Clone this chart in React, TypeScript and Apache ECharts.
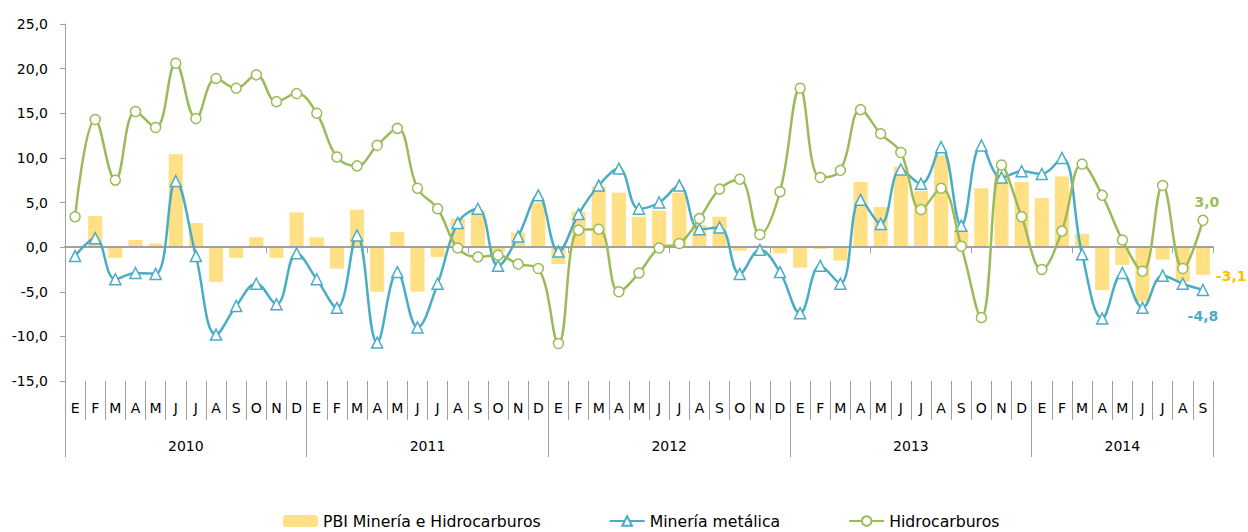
import React, { useEffect, useRef } from 'react';
import * as echarts from 'echarts';

const years = ['2010', '2011', '2012', '2013', '2014'];
const monthsPerYear = [12, 12, 12, 12, 9];
const monthLetters = ['E', 'F', 'M', 'A', 'M', 'J', 'J', 'A', 'S', 'O', 'N', 'D'];

const categories: string[] = years.flatMap((y, i) =>
  monthLetters.slice(0, monthsPerYear[i]).map((m, j) => `${y}-${j}-${m}`)
);

const pbi = [
  0.1, 3.5, -1.2, 0.8, 0.4, 10.4, 2.7, -3.9, -1.2, 1.1, -1.2, 3.9,
  1.1, -2.4, 4.2, -5.0, 1.7, -5.0, -1.1, 3.2, 4.1, -0.5, 1.6, 5.0,
  -1.9, 4.0, 6.8, 6.1, 3.4, 4.1, 6.1, 2.5, 3.4, -0.4, 0.2, -0.7,
  -2.3, -0.2, -1.5, 7.3, 4.5, 9.0, 6.3, 10.3, 1.9, 6.6, 8.1, 7.3,
  5.5, 7.9, 1.5, -4.8, -2.0, -6.1, -1.4, -3.9, -3.1,
];

const mineria = [
  -1.0, 1.0, -3.6, -2.9, -3.0, 7.4, -1.0, -9.8, -6.6, -4.1, -6.4, -0.7,
  -3.6, -6.8, 1.3, -10.7, -2.8, -9.0, -4.1, 2.7, 4.3, -2.1, 1.2, 5.8,
  -0.5, 3.7, 6.9, 8.8, 4.3, 5.0, 6.9, 2.0, 2.2, -3.0, -0.3, -2.8,
  -7.4, -2.1, -4.1, 5.3, 2.6, 8.7, 7.1, 11.2, 2.4, 11.4, 7.8, 8.5,
  8.2, 10.0, -0.8, -8.0, -2.9, -6.8, -3.2, -4.1, -4.8,
];

const hidrocarburos = [
  3.4, 14.3, 7.5, 15.2, 13.4, 20.6, 14.4, 18.9, 17.8, 19.3, 16.3, 17.2,
  15.0, 10.1, 9.1, 11.4, 13.3, 6.6, 4.3, -0.1, -1.1, -0.9, -1.9, -2.4,
  -10.8, 1.9, 2.0, -5.0, -2.9, -0.1, 0.4, 3.2, 6.5, 7.6, 1.4, 6.2,
  17.8, 7.8, 8.6, 15.4, 12.7, 10.6, 4.2, 6.6, 0.1, -7.9, 9.2, 3.4,
  -2.5, 1.8, 9.3, 5.8, 0.8, -2.7, 6.9, -2.4, 3.0,
];

const seriesNames = ['PBI Minería e Hidrocarburos', 'Minería metálica', 'Hidrocarburos'];
const yMin = -15;
const yMax = 25;
const yInterval = 5;

const FONT = 'DejaVu Sans';
const C_BAR = '#FFE084';
const C_BLUE = '#4BACC6';
const C_GREEN = '#9BBB59';
const C_GOLD = '#FFC000';
const C_AXIS = '#A0A0A0';

const fmt = (v: number) => v.toFixed(1).replace('.', ',');

// year boundaries / centers in month units (from month counts)
const yearBounds: number[] = [0];
monthsPerYear.forEach((n) => yearBounds.push(yearBounds[yearBounds.length - 1] + n));
const yearCenters = years.map((_, i) => (yearBounds[i] + yearBounds[i + 1]) / 2);
const totalMonths = yearBounds[yearBounds.length - 1];

export default function App() {
  const ref = useRef<HTMLDivElement>(null);

  useEffect(() => {
    document.body.style.margin = '0';
    document.body.style.overflow = 'hidden';
    if (!ref.current) return;
    const chart = echarts.init(ref.current, undefined, { renderer: 'svg' });

    const last = categories.length - 1;
    const barData = pbi.map((v, i) =>
      i === last
        ? {
            value: v,
            label: {
              show: true,
              position: 'right',
              distance: 6,
              offset: [0, 15],
              formatter: () => fmt(v),
              color: C_GOLD,
              fontFamily: FONT,
              fontWeight: 'bold',
              fontSize: 14,
            },
          }
        : v
    );
    const minData = mineria.map((v, i) =>
      i === last
        ? {
            value: v,
            label: {
              show: true,
              position: 'bottom',
              distance: 13,
              formatter: () => fmt(v),
              color: C_BLUE,
              fontFamily: FONT,
              fontWeight: 'bold',
              fontSize: 14,
            },
          }
        : v
    );
    const hidData = hidrocarburos.map((v, i) =>
      i === last
        ? {
            value: v,
            label: {
              show: true,
              position: 'top',
              distance: 6,
              offset: [4, 0],
              formatter: () => fmt(v),
              color: C_GREEN,
              fontFamily: FONT,
              fontWeight: 'bold',
              fontSize: 14,
            },
          }
        : v
    );

    chart.setOption({
      animation: false,
      textStyle: { fontFamily: FONT },
      grid: { left: 65, right: 35, top: 24, bottom: 151, containLabel: false },
      legend: {
        data: seriesNames,
        left: 278,
        top: 508,
        itemWidth: 35,
        itemHeight: 12,
        itemGap: 68,
        textStyle: { fontFamily: FONT, fontSize: 15.7, color: '#000' },
      },
      xAxis: [
        {
          type: 'category',
          data: categories,
          position: 'bottom',
          boundaryGap: true,
          axisLine: { show: false, onZero: false },
          axisTick: { show: true, length: 39, lineStyle: { color: C_AXIS, width: 1 } },
          axisLabel: {
            interval: 0,
            margin: 20,
            fontSize: 14,
            color: '#000',
            fontFamily: FONT,
            formatter: (v: string) => v.split('-')[2],
          },
          splitLine: { show: false },
        },
        {
          type: 'category',
          data: categories,
          position: 'bottom',
          boundaryGap: true,
          z: 2,
          axisLine: { show: true, onZero: true, lineStyle: { color: C_AXIS, width: 2 } },
          axisTick: { show: true, length: 6, lineStyle: { color: C_AXIS, width: 1 } },
          axisLabel: { show: false },
          splitLine: { show: false },
        },
        {
          type: 'value',
          position: 'bottom',
          min: 0,
          max: totalMonths,
          axisLine: { show: false, onZero: false },
          axisTick: {
            show: true,
            length: 76,
            customValues: yearBounds,
            lineStyle: { color: C_AXIS, width: 1 },
          },
          axisLabel: {
            show: true,
            margin: 58,
            fontSize: 14,
            color: '#000',
            fontFamily: FONT,
            customValues: yearCenters,
            formatter: (v: number) => {
              const idx = yearCenters.findIndex((c) => Math.abs(c - v) < 0.01);
              return idx >= 0 ? years[idx] : '';
            },
          },
          splitLine: { show: false },
        },
      ],
      yAxis: {
        type: 'value',
        min: yMin,
        max: yMax,
        interval: yInterval,
        axisLine: { show: true, lineStyle: { color: C_AXIS, width: 1 } },
        axisTick: { show: true, length: 5, lineStyle: { color: C_AXIS } },
        axisLabel: {
          margin: 17,
          fontSize: 14,
          color: '#000',
          fontFamily: FONT,
          formatter: (v: number) => fmt(v),
        },
        splitLine: { show: false },
      },
      series: [
        {
          name: seriesNames[0],
          type: 'bar',
          xAxisIndex: 0,
          z: 1,
          barCategoryGap: '30%',
          itemStyle: { color: C_BAR },
          data: barData,
        },
        {
          name: seriesNames[1],
          type: 'line',
          xAxisIndex: 0,
          z: 3,
          smooth: 0.4,
          symbol: 'triangle',
          symbolSize: 11,
          lineStyle: { color: C_BLUE, width: 2.5 },
          itemStyle: { color: '#fff', borderColor: C_BLUE, borderWidth: 1.5 },
          data: minData,
        },
        {
          name: seriesNames[2],
          type: 'line',
          xAxisIndex: 0,
          z: 4,
          smooth: 0.4,
          symbol: 'circle',
          symbolSize: 10,
          lineStyle: { color: C_GREEN, width: 2.5 },
          itemStyle: { color: '#fff', borderColor: C_GREEN, borderWidth: 1.5 },
          data: hidData,
        },
      ],
    });

    return () => {
      chart.dispose();
    };
  }, []);

  return <div ref={ref} style={{ width: 1248, height: 532 }} />;
}
